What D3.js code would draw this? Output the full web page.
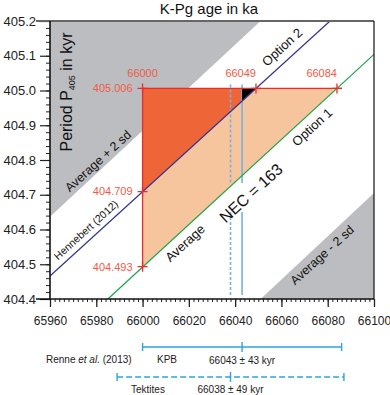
<!DOCTYPE html>
<html>
<head>
<meta charset="utf-8">
<script src="https://cdn.jsdelivr.net/npm/d3@7"></script>
<style>
    body { margin: 0; background: #fff; }
    svg { font-family: "Liberation Sans", Arial, sans-serif; }
</style>
</head>
<body>
<div id="chart"></div>
<script>
// values
const xTicks = [65960, 65980, 66000, 66020, 66040, 66060, 66080, 66100];
const yTicks = [404.4, 404.5, 404.6, 404.7, 404.8, 404.9, 405.0, 405.1, 405.2];

const cornerAges = [66000, 66049, 66084];
const cornerPeriods = [405.006, 404.709, 404.493];

const optionTwoAges = [65960, 66081];      // Hennebert (2012) / Option 2
const optionTwoPeriods = [404.466, 405.2];
const optionOneAges = [65985, 66100];      // Average / Option 1
const optionOnePeriods = [404.4, 405.104];

const plusSdAges = [65960, 66051, 65960];
const plusSdPeriods = [405.2, 405.2, 404.637];
const minusSdAges = [66051, 66100, 66100];
const minusSdPeriods = [404.4, 404.4, 404.705];

const overlapPeriod = 404.970;

const kpbNames = ["KPB", "Tektites"];
const kpbAges = [66043, 66038];
const kpbErrors = [43, 49];

const width = 390, height = 395;

const x = d3.scaleLinear().domain([65960, 66100]).range([50, 374]);
const y = d3.scaleLinear().domain([404.4, 405.2]).range([299, 21]);

const svg = d3.select("#chart").append("svg")
    .attr("width", width)
    .attr("height", height);

const zip = (a, p) => a.map((d, i) => [x(d), y(p[i])]);
const line = d3.line();

// grey +/- 2 sd areas
svg.append("path")
    .attr("d", line(zip(plusSdAges, plusSdPeriods)) + "Z")
    .attr("fill", "#bcbdc0");
svg.append("path")
    .attr("d", line(zip(minusSdAges, minusSdPeriods)) + "Z")
    .attr("fill", "#bcbdc0");

// orange fields
const [a0, a1, a2] = cornerAges;
const [pTop, pMid, pLow] = cornerPeriods;
svg.append("path")
    .attr("d", line(zip([a0, a1, a2, a0], [pMid, pTop, pTop, pLow])) + "Z")
    .attr("fill", "#f6c59e");
svg.append("path")
    .attr("d", line(zip([a0, a1, a0], [pTop, pTop, pMid])) + "Z")
    .attr("fill", "#ee6638");

// blue verticals (Renne et al. ages)
const gapTop = 183, gapBottom = 212, vTop = y(405.017), vBottom = 295;
kpbAges.forEach((a, i) => {
    [[vTop, gapTop], [gapBottom, vBottom]].forEach(seg => {
        svg.append("line")
            .attr("x1", x(a)).attr("x2", x(a))
            .attr("y1", seg[0]).attr("y2", seg[1])
            .attr("stroke", "#74b3de")
            .attr("stroke-width", 1.6)
            .attr("stroke-dasharray", i === 1 ? "3,2" : null);
    });
});

// black overlap triangle
svg.append("path")
    .attr("d", line(zip([kpbAges[0], a1, kpbAges[0]], [pTop, pTop, overlapPeriod])) + "Z")
    .attr("fill", "#000");

// option lines
svg.append("path")
    .attr("d", line(zip(optionTwoAges, optionTwoPeriods)))
    .attr("stroke", "#34348f").attr("stroke-width", 1.2).attr("fill", "none");
svg.append("path")
    .attr("d", line(zip(optionOneAges, optionOnePeriods)))
    .attr("stroke", "#1ea34a").attr("stroke-width", 1.2).attr("fill", "none");

// red frame of the fields
const red = "#ec2b2b";
svg.append("line")
    .attr("x1", x(a0)).attr("x2", x(a2) + 5)
    .attr("y1", y(pTop)).attr("y2", y(pTop))
    .attr("stroke", red).attr("stroke-width", 1.3);
svg.append("line")
    .attr("x1", x(a0)).attr("x2", x(a0))
    .attr("y1", y(pTop)).attr("y2", y(pLow))
    .attr("stroke", red).attr("stroke-width", 1.3);

const crosses = [[a0, pTop], [a0, pMid], [a0, pLow], [a1, pTop], [a2, pTop]];
svg.append("g").selectAll("path")
    .data(crosses)
    .join("path")
    .attr("d", d => `M${x(d[0]) - 5},${y(d[1])}h10M${x(d[0])},${y(d[1]) - 5}v10`)
    .attr("stroke", red).attr("stroke-width", 1.3);

const redText = "#f05a48";
const ageLabels = svg.append("g")
    .attr("font-size", 11).attr("fill", redText);
ageLabels.selectAll("text")
    .data(cornerAges)
    .join("text")
    .attr("x", d => x(d))
    .attr("y", y(pTop) - 11)
    .attr("text-anchor", (d, i) => i === 0 ? "middle" : "end")
    .text(d => d);
ageLabels.append("g").selectAll("text")
    .data(cornerPeriods)
    .join("text")
    .attr("x", x(a0) - 10)
    .attr("y", d => y(d))
    .attr("dy", "0.35em")
    .attr("text-anchor", "end")
    .text(d => d3.format(".3f")(d));

// rotated annotations
const angle = -Math.atan2(
    y(optionTwoPeriods[0]) - y(optionTwoPeriods[1]),
    x(optionTwoAges[1]) - x(optionTwoAges[0])) * 180 / Math.PI;

const notes = [
    {t: "Option 2", cx: 282, cy: 47, s: 13},
    {t: "Option 1", cx: 312, cy: 127, s: 13},
    {t: "NEC = 163", cx: 251, cy: 193, s: 16},
    {t: "Average", cx: 185, cy: 243, s: 13},
    {t: "Hennebert (2012)", cx: 86, cy: 230, s: 10.5},
    {t: "Average + 2 sd", cx: 98, cy: 161, s: 12.5},
    {t: "Average - 2 sd", cx: 322, cy: 255, s: 12.5}
];
svg.append("g").selectAll("text")
    .data(notes)
    .join("text")
    .attr("transform", d => `translate(${d.cx},${d.cy}) rotate(${angle})`)
    .attr("text-anchor", "middle")
    .attr("dy", "0.35em")
    .attr("font-size", d => d.s)
    .attr("fill", "#111")
    .text(d => d.t);

// axes
const yAxis = svg.append("g")
    .attr("transform", `translate(${x.range()[0]},0)`)
    .call(d3.axisLeft(y).tickValues(d3.range(404.4, 405.201, 0.02)).tickSize(4).tickFormat(""))
    .call(g => g.select(".domain").remove());
svg.append("g")
    .attr("transform", `translate(${x.range()[0]},0)`)
    .call(d3.axisLeft(y).tickValues(yTicks).tickSize(10).tickPadding(4).tickFormat(d3.format(".1f")))
    .call(g => g.select(".domain").remove())
    .call(g => g.selectAll(".tick line").attr("stroke", "#222").attr("stroke-width", 1.2))
    .call(g => g.selectAll(".tick text").attr("font-size", 13).attr("fill", "#222")
        .attr("font-family", "Liberation Sans, Arial, sans-serif"));
yAxis.selectAll(".tick line").attr("stroke", "#222");

svg.append("g")
    .attr("transform", `translate(0,${y.range()[0]})`)
    .call(d3.axisBottom(x).tickValues(d3.range(65960, 66101, 2)).tickSize(3).tickFormat(""))
    .call(g => g.select(".domain").remove())
    .call(g => g.selectAll(".tick line").attr("stroke", "#222"));
svg.append("g")
    .attr("transform", `translate(0,${y.range()[0]})`)
    .call(d3.axisBottom(x).tickValues(xTicks).tickSize(8).tickPadding(9).tickFormat(d3.format("d")))
    .call(g => g.select(".domain").remove())
    .call(g => g.selectAll(".tick line").attr("stroke", "#222").attr("stroke-width", 1.3))
    .call(g => g.selectAll(".tick text").attr("font-size", 12).attr("fill", "#222")
        .attr("font-family", "Liberation Sans, Arial, sans-serif"));

// frame
svg.append("line")
    .attr("x1", 36).attr("x2", x.range()[1])
    .attr("y1", y.range()[1]).attr("y2", y.range()[1])
    .attr("stroke", "#666").attr("stroke-width", 2);
svg.append("line")
    .attr("x1", x.range()[1]).attr("x2", x.range()[1])
    .attr("y1", y.range()[1]).attr("y2", y.range()[0])
    .attr("stroke", "#111").attr("stroke-width", 1.2);
svg.append("line")
    .attr("x1", x.range()[0]).attr("x2", x.range()[0])
    .attr("y1", y.range()[1]).attr("y2", y.range()[0])
    .attr("stroke", "#111").attr("stroke-width", 1.6);
svg.append("line")
    .attr("x1", 36).attr("x2", x.range()[1])
    .attr("y1", y.range()[0]).attr("y2", y.range()[0])
    .attr("stroke", "#111").attr("stroke-width", 1.6);

// title and y label
svg.append("text")
    .attr("x", 209).attr("y", 14)
    .attr("text-anchor", "middle")
    .attr("font-size", 15)
    .attr("fill", "#111")
    .text("K-Pg age in ka");

const yLabel = svg.append("text")
    .attr("transform", "translate(72,92) rotate(-90)")
    .attr("text-anchor", "middle")
    .attr("font-size", 16)
    .attr("fill", "#111");
yLabel.append("tspan").text("Period P");
yLabel.append("tspan").attr("font-size", 9).attr("dy", 3).text("405");
yLabel.append("tspan").attr("dy", -3).text(" in kyr");

// Renne et al. (2013) error bars
const barY = [347, 377];
const bars = svg.append("g").attr("stroke", "#2ea3de").attr("stroke-width", 1.4);
kpbAges.forEach((a, i) => {
    const lo = a - kpbErrors[i], hi = a + kpbErrors[i];
    bars.append("line")
        .attr("x1", x(lo)).attr("x2", x(hi))
        .attr("y1", barY[i]).attr("y2", barY[i])
        .attr("stroke-dasharray", i === 1 ? "6,3" : null);
    [lo, hi].forEach(v => bars.append("line")
        .attr("x1", x(v)).attr("x2", x(v))
        .attr("y1", barY[i] - 4).attr("y2", barY[i] + 4));
    bars.append("line")
        .attr("x1", x(a)).attr("x2", x(a))
        .attr("y1", barY[i] - 5).attr("y2", barY[i] + 5);
});

const notesBottom = svg.append("g").attr("font-size", 10).attr("fill", "#222");
const renne = notesBottom.append("text").attr("x", 46).attr("y", 363);
renne.append("tspan").text("Renne ");
renne.append("tspan").attr("font-style", "italic").text("et al.");
renne.append("tspan").text(" (2013)");

notesBottom.append("text").attr("x", 157).attr("y", 363).text(kpbNames[0]);
notesBottom.append("text").attr("x", 131).attr("y", 393).text(kpbNames[1]);
kpbAges.forEach((a, i) => {
    notesBottom.append("text")
        .attr("x", x(a)).attr("y", [364, 393][i])
        .attr("text-anchor", "middle")
        .text(`${a} ± ${kpbErrors[i]} kyr`);
});
</script>
</body>
</html>
